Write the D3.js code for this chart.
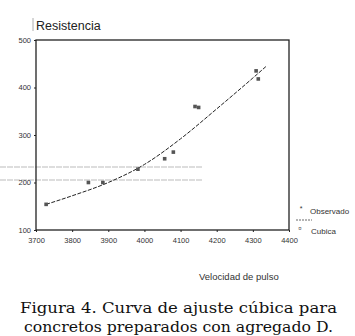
<!DOCTYPE html>
<html>
<head>
<meta charset="utf-8">
<script src="https://cdn.jsdelivr.net/npm/d3@7"></script>
<style>
  body { margin: 0; background: #fff; }
  svg { display: block; }
</style>
</head>
<body>
<div id="chart"></div>
<script>
// Datos observados (velocidad de pulso, resistencia)
const velocidad = [3728, 3845, 3885, 3982, 4056, 4080, 4140, 4150, 4309, 4315];
const resistencia = [154, 200, 200, 228, 250, 264, 360, 358, 435, 418];

// Curva cúbica
const curvaX = [3728, 3800, 3900, 4000, 4100, 4200, 4300, 4336];
const curvaY = [154, 172, 200, 238, 292, 355, 420, 444];

const xTicks = [3700, 3800, 3900, 4000, 4100, 4200, 4300, 4400];
const yTicks = [100, 200, 300, 400, 500];

const W = 355, H = 336;
const svg = d3.select("#chart").append("svg")
    .attr("width", W).attr("height", H);

const x = d3.scaleLinear().domain([3700, 4400]).range([36, 289]);
const y = d3.scaleLinear().domain([100, 500]).range([230, 40]);

// líneas grises del escaneo
[167, 180].forEach(v => {
    svg.append("line")
        .attr("x1", 0).attr("x2", 203).attr("y1", v).attr("y2", v)
        .attr("stroke", "#bbb").attr("stroke-width", 1.2)
        .attr("stroke-dasharray", "6,1");
});

// Marco
svg.append("rect")
    .attr("x", 36).attr("y", 40).attr("width", 253).attr("height", 190)
    .attr("fill", "none").attr("stroke", "#222").attr("stroke-width", 1.3);

// Ejes
const xAxis = d3.axisBottom(x).tickValues(xTicks).tickSize(2).tickFormat(d3.format("d"));
const yAxis = d3.axisLeft(y).tickValues(yTicks).tickSize(2).tickFormat(d3.format("d"));

svg.append("g").attr("transform", "translate(0,230)").call(xAxis)
    .call(g => g.select(".domain").remove())
    .call(g => g.selectAll("text").attr("dy", "1.1em"));
svg.append("g").attr("transform", "translate(36,0)").call(yAxis)
    .call(g => g.select(".domain").remove());

svg.selectAll(".tick text")
    .style("font-family", "Liberation Sans, Arial, sans-serif")
    .style("font-size", "7.5px")
    .attr("fill", "#333");
svg.selectAll(".tick line").attr("stroke", "#222");

// Curva
const line = d3.line()
    .x(d => x(d[0]))
    .y(d => y(d[1]))
    .curve(d3.curveMonotoneX);

svg.append("path")
    .datum(d3.zip(curvaX, curvaY))
    .attr("fill", "none")
    .attr("stroke", "#222")
    .attr("stroke-width", 1)
    .attr("stroke-dasharray", "4,1.5")
    .attr("d", line);

// Puntos
svg.selectAll(".pt")
    .data(d3.zip(velocidad, resistencia))
    .enter()
    .append("rect")
    .attr("x", d => x(d[0]) - 1.8)
    .attr("y", d => y(d[1]) - 1.8)
    .attr("width", 3.6).attr("height", 3.6)
    .attr("fill", "#555");

// Títulos
svg.append("line")
    .attr("x1", 33).attr("x2", 33).attr("y1", 18).attr("y2", 31)
    .attr("stroke", "#999").attr("stroke-width", 0.8);
svg.append("text")
    .attr("x", 36).attr("y", 30)
    .style("font-family", "Liberation Sans, Arial, sans-serif")
    .style("font-size", "12.5px")
    .attr("fill", "#222")
    .text("Resistencia");

svg.append("text")
    .attr("x", 199).attr("y", 280)
    .style("font-family", "Liberation Sans, Arial, sans-serif")
    .style("font-size", "9.5px")
    .attr("fill", "#333")
    .text("Velocidad de pulso");

// Leyenda
const lf = "Liberation Sans, Arial, sans-serif";
svg.append("text").attr("x", 301).attr("y", 211)
    .attr("text-anchor", "middle")
    .style("font-family", lf).style("font-size", "7px").attr("fill", "#333").text("*");
svg.append("text").attr("x", 310).attr("y", 214)
    .style("font-family", lf).style("font-size", "8px").attr("fill", "#333").text("Observado");
svg.append("line")
    .attr("x1", 296).attr("x2", 312).attr("y1", 220).attr("y2", 220)
    .attr("stroke", "#444").attr("stroke-width", 0.8).attr("stroke-dasharray", "2,1");
svg.append("text").attr("x", 300).attr("y", 230)
    .attr("text-anchor", "middle")
    .style("font-family", lf).style("font-size", "6px").attr("fill", "#555").text("¤");
svg.append("text").attr("x", 311).attr("y", 234)
    .style("font-family", lf).style("font-size", "8px").attr("fill", "#333").text("Cubica");

// Pie de figura
const serif = "DejaVu Serif, Liberation Serif, serif";
svg.append("text")
    .attr("x", 20).attr("y", 313)
    .attr("textLength", 317).attr("lengthAdjust", "spacingAndGlyphs")
    .style("font-family", serif).style("font-size", "14.5px")
    .attr("fill", "#111")
    .text("Figura 4. Curva de ajuste cúbica para");
svg.append("text")
    .attr("x", 24).attr("y", 332)
    .attr("textLength", 309).attr("lengthAdjust", "spacingAndGlyphs")
    .style("font-family", serif).style("font-size", "14.5px")
    .attr("fill", "#111")
    .text("concretos preparados con agregado D.");
</script>
</body>
</html>
